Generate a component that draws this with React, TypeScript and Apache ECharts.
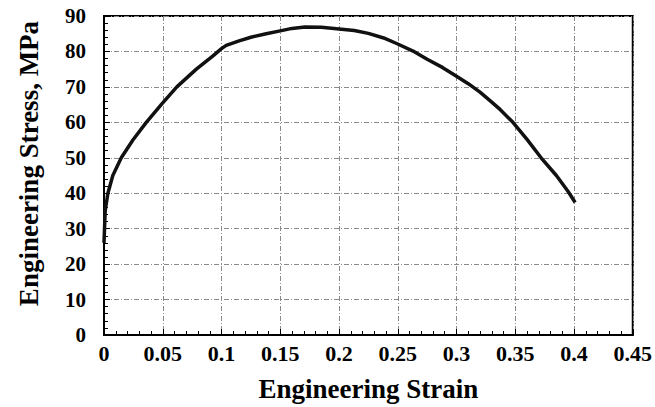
import React, { useEffect, useRef } from "react";
import * as echarts from "echarts";

const strain = [0, 0.001, 0.0033, 0.0075, 0.0147, 0.0246, 0.036, 0.0487, 0.062, 0.0786, 0.0925, 0.1, 0.104, 0.115, 0.125, 0.138, 0.15, 0.16, 0.171, 0.185, 0.2, 0.213, 0.225, 0.238, 0.25, 0.263, 0.275, 0.288, 0.3, 0.31, 0.32, 0.33, 0.3375, 0.348, 0.36, 0.372, 0.385, 0.395, 0.401];
const stress = [26, 35, 40, 45, 50, 55, 60, 65, 70, 75, 78.7, 80.8, 81.7, 83, 84, 85, 85.8, 86.5, 86.9, 86.8, 86.3, 85.9, 85.1, 83.8, 82.1, 80.1, 77.8, 75.5, 73, 70.9, 68.5, 65.7, 63.5, 60, 55.2, 50, 45, 40.5, 37.4];
const xTicks = [0, 0.05, 0.1, 0.15, 0.2, 0.25, 0.3, 0.35, 0.4, 0.45];
const yTicks = [0, 10, 20, 30, 40, 50, 60, 70, 80, 90];

const FONT = "Liberation Serif";

export default function App() {
  const ref = useRef<HTMLDivElement>(null);
  useEffect(() => {
    if (!ref.current) return;
    const chart = echarts.init(ref.current, null, { renderer: "svg" });
    const data = strain.map((s, i) => [s, stress[i]]);
    const gridLine = { show: true, lineStyle: { color: "#8a8a8a", width: 1, type: [5, 2, 1, 2] as any } };
    chart.setOption({
      animation: false,
      backgroundColor: "#ffffff",
      grid: { left: 104, top: 16, right: 22, bottom: 72, show: true, borderColor: "#000", borderWidth: 2, backgroundColor: "transparent" },
      xAxis: {
        type: "value",
        min: 0,
        max: 0.45,
        interval: 0.05,
        name: "Engineering Strain",
        nameLocation: "middle",
        nameGap: 40,
        nameTextStyle: { fontFamily: FONT, fontWeight: "bold", fontSize: 27, color: "#000" },
        axisLine: { show: true, lineStyle: { color: "#000", width: 2 } },
        axisTick: { show: true, inside: true, length: 6, lineStyle: { color: "#000", width: 1 } },
        minorTick: { show: true, splitNumber: 5, length: 4, lineStyle: { color: "#000", width: 1 } },
        axisLabel: {
          fontFamily: FONT, fontWeight: "bold", fontSize: 22, color: "#000", margin: 7,
          formatter: (v: number) => {
            const t = xTicks.find((x) => Math.abs(x - v) < 1e-9);
            return t === undefined ? "" : String(t);
          },
        },
        splitLine: gridLine,
      },
      yAxis: {
        type: "value",
        min: 0,
        max: 90,
        interval: 10,
        name: "Engineering Stress, MPa",
        nameLocation: "middle",
        nameGap: 62,
        nameRotate: 90,
        nameTextStyle: { fontFamily: FONT, fontWeight: "bold", fontSize: 27, color: "#000", padding: [0, 0, 0, 24] },
        axisLine: { show: true, lineStyle: { color: "#000", width: 2 } },
        axisTick: { show: true, inside: true, length: 6, lineStyle: { color: "#000", width: 1 } },
        minorTick: { show: true, splitNumber: 5, length: 4, lineStyle: { color: "#000", width: 1 } },
        axisLabel: {
          fontFamily: FONT, fontWeight: "bold", fontSize: 21, color: "#000", margin: 18,
          formatter: (v: number) => {
            const t = yTicks.find((y) => Math.abs(y - v) < 1e-9);
            return t === undefined ? "" : String(t);
          },
        },
        splitLine: gridLine,
      },
      series: [
        {
          type: "line",
          data,
          showSymbol: false,
          symbol: "none",
          smooth: false,
          lineStyle: { color: "#111", width: 3.5, join: "round" },
        },
      ],
    });
    return () => chart.dispose();
  }, []);
  return <div ref={ref} style={{ width: 655, height: 407, position: "absolute", left: 0, top: 0 }} />;
}
